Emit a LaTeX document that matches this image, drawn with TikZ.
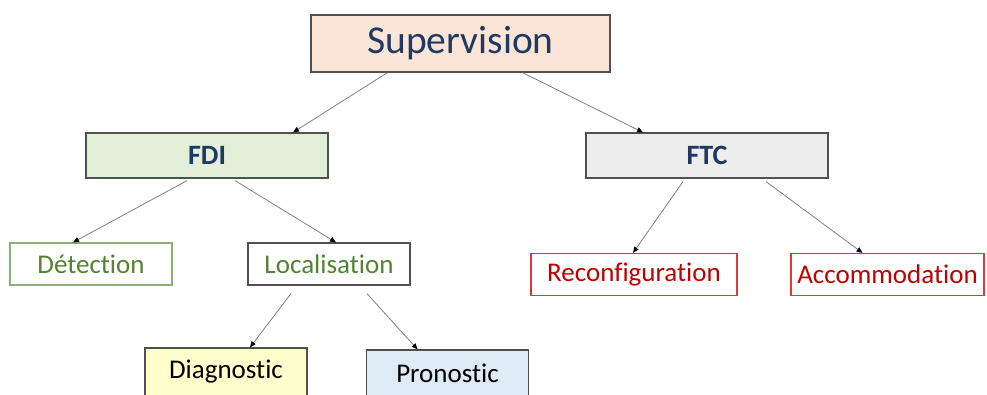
\documentclass[tikz,border=0pt]{standalone}
\usepackage{fontspec}
\setmainfont{Carlito}[Ligatures=NoCommon]
\usetikzlibrary{arrows.meta}

\definecolor{supfill}{HTML}{FBE5D6}
\definecolor{fdifill}{HTML}{E2F0D9}
\definecolor{ftcfill}{HTML}{EDEDED}
\definecolor{diagfill}{HTML}{FFFFCC}
\definecolor{pronofill}{HTML}{DEEBF7}
\definecolor{darkblue}{HTML}{1F3864}
\definecolor{leafgreen}{HTML}{548235}
\definecolor{greenline}{HTML}{8CAF7A}
\definecolor{leafred}{HTML}{C00000}
\definecolor{redline}{HTML}{D83A3A}
\definecolor{boxline}{HTML}{505050}
\definecolor{arrowgrey}{HTML}{808080}

\begin{document}
\begin{tikzpicture}[
    x=1pt, y=-1pt,
    box/.style={rectangle, draw=boxline, line width=1.2pt, inner sep=0pt, align=center},
    level/.style={box, minimum width=242pt, minimum height=45pt, text=darkblue, font=\fontsize{28}{32}\selectfont\bfseries},
    leaf/.style={box, minimum width=162pt, minimum height=42pt, font=\fontsize{27}{31}\selectfont},
    arrow/.style={-{Triangle[length=6pt, width=5pt, color=black]}, draw=arrowgrey, line width=0.8pt}
]
\useasboundingbox (0,0) rectangle (987,394);

% Root
\node[box, fill=supfill, minimum width=299pt, minimum height=57pt, text=darkblue,
      font=\fontsize{39.5}{44}\selectfont] (sup) at (460.5,43.5) {Supervision};

% Second level
\node[level, fill=fdifill] (fdi) at (207,155.5) {FDI};
\node[level, fill=ftcfill] (ftc) at (707,155.5) {FTC};

% FDI branch
\node[leaf, draw=greenline, fill=white, text=leafgreen] (detect) at (91,264) {Détection};
\node[leaf, fill=white, text=leafgreen] (local) at (329,264) {Localisation};
\node[leaf, fill=diagfill, minimum height=48pt, text=black] (diag) at (226,372) {Diagnostic};
\node[leaf, fill=pronofill, minimum height=46pt, text=black] (prono) at (447.5,373) {Pronostic};

% FTC branch
\node[leaf, draw=redline, minimum width=206pt, fill=white, text=leafred] (reconf) at (634,274.5) {Reconfiguration};
\node[leaf, draw=redline, minimum width=193pt, fill=white, text=leafred] (accom) at (887.5,274.5) {Accommodation};

% Arrows
\draw[arrow] ([xshift=-73pt]sup.south) -- ([xshift=86pt]fdi.north);
\draw[arrow] ([xshift=62pt]sup.south) -- ([xshift=-64pt]ftc.north);
\draw[arrow] ([xshift=-20pt, yshift=-2pt]fdi.south) -- ([xshift=-18pt]detect.north);
\draw[arrow] ([xshift=28pt, yshift=-2pt]fdi.south) -- ([xshift=7pt]local.north);
\draw[arrow] ([xshift=-24pt, yshift=-3pt]ftc.south) -- ([xshift=-1pt]reconf.north);
\draw[arrow] ([xshift=59pt, yshift=-3pt]ftc.south) -- ([xshift=-25pt]accom.north);
\draw[arrow] ([xshift=-38pt, yshift=-8pt]local.south) -- ([xshift=24pt]diag.north);
\draw[arrow] ([xshift=38pt, yshift=-8pt]local.south) -- ([xshift=-30pt]prono.north);

\end{tikzpicture}
\end{document}
